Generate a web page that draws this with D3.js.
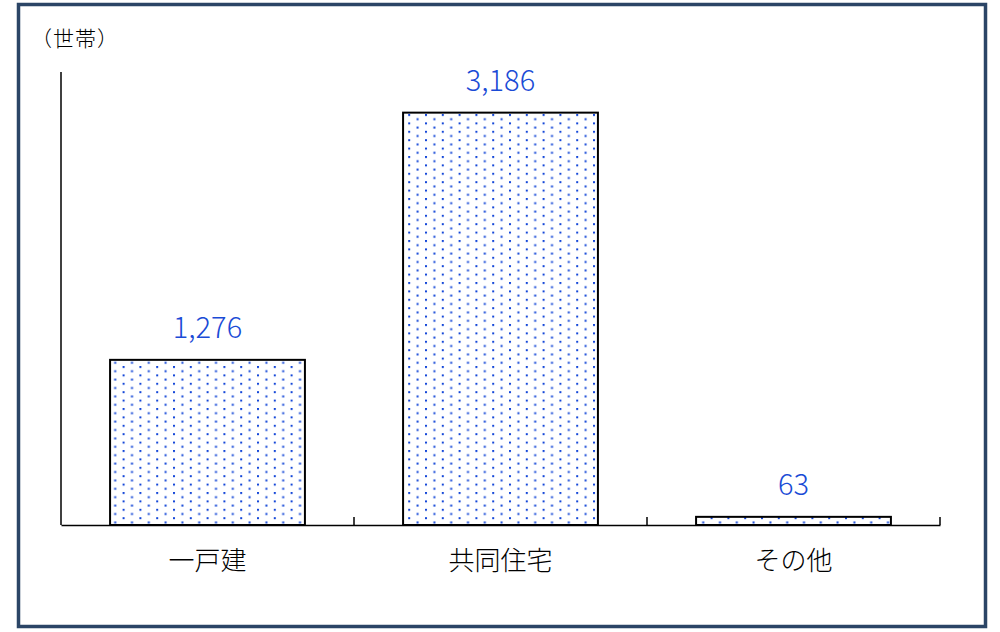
<!DOCTYPE html>
<html>
<head>
<meta charset="utf-8">
<script src="https://cdn.jsdelivr.net/npm/d3@7"></script>
<style>
  body { margin: 0; background: #ffffff; }
  svg { display: block; }
</style>
</head>
<body>
<div id="chart"></div>
<script>
// データ
const categories = ["一戸建", "共同住宅", "その他"];
const values = [1276, 3186, 63];
const yDomain = [0, 3500];
const unitLabel = "（世帯）";

const W = 1000, H = 632;
const svg = d3.select("#chart").append("svg")
    .attr("width", W)
    .attr("height", H);

// ドット模様
const defs = svg.append("defs");
const pat = defs.append("pattern")
    .attr("id", "dots")
    .attr("patternUnits", "userSpaceOnUse")
    .attr("width", 16.8)
    .attr("height", 8.4)
    .attr("x", 112)
    .attr("y", 0);
pat.append("rect").attr("width", 16.8).attr("height", 8.4).attr("fill", "#ffffff");
pat.append("rect").attr("x", 0).attr("y", 0).attr("width", 2).attr("height", 2).attr("fill", "#1447d8");
pat.append("rect").attr("x", 8.4).attr("y", 4.2).attr("width", 2).attr("height", 2).attr("fill", "#1447d8");

// 外枠
svg.append("rect")
    .attr("x", 18.5)
    .attr("y", 4.5)
    .attr("width", 967)
    .attr("height", 622)
    .attr("fill", "none")
    .attr("stroke", "#2b4566")
    .attr("stroke-width", 3.5);

const margin = { left: 61, right: 60, top: 72, bottom: 107 };
const plotW = W - margin.left - margin.right;
const plotH = H - margin.top - margin.bottom;

const g = svg.append("g")
    .attr("transform", `translate(${margin.left},${margin.top})`);

const x = d3.scaleBand()
    .domain(categories)
    .range([0, plotW])
    .paddingInner(0)
    .paddingOuter(0);

const y = d3.scaleLinear()
    .domain(yDomain)
    .range([plotH, 0]);

const barW = x.bandwidth() * 0.665;

// 棒
g.selectAll(".bar")
    .data(values)
    .enter()
    .append("rect")
    .attr("class", "bar")
    .attr("x", (d, i) => x(categories[i]) + (x.bandwidth() - barW) / 2)
    .attr("y", d => y(d))
    .attr("width", barW)
    .attr("height", d => plotH - y(d))
    .attr("fill", "url(#dots)")
    .attr("stroke", "#000000")
    .attr("stroke-width", 2);

// Y軸（線のみ）
g.append("line")
    .attr("x1", 0).attr("x2", 0)
    .attr("y1", 0).attr("y2", plotH)
    .attr("stroke", "#000")
    .attr("stroke-width", 1.5);

// X軸
const xAxis = g.append("g")
    .attr("transform", `translate(0,${plotH})`)
    .call(d3.axisBottom(x).tickSize(0).tickFormat(""));
xAxis.select(".domain").attr("stroke", "#000").attr("stroke-width", 1.5);

// 区切り目盛（上向き）
g.selectAll(".sep")
    .data(categories)
    .enter()
    .append("line")
    .attr("x1", d => x(d) + x.bandwidth())
    .attr("x2", d => x(d) + x.bandwidth())
    .attr("y1", plotH - 8)
    .attr("y2", plotH)
    .attr("stroke", "#000")
    .attr("stroke-width", 1.5);

// カテゴリ名
g.selectAll(".cat")
    .data(categories)
    .enter()
    .append("text")
    .attr("x", d => x(d) + x.bandwidth() / 2)
    .attr("y", plotH + 45)
    .attr("text-anchor", "middle")
    .style("font-family", "'Noto Sans CJK JP', sans-serif")
    .style("font-weight", "300")
    .style("font-size", "26px")
    .style("fill", "#000")
    .text(d => d);

// 値ラベル
g.selectAll(".val")
    .data(values)
    .enter()
    .append("text")
    .attr("x", (d, i) => x(categories[i]) + x.bandwidth() / 2)
    .attr("y", d => y(d) - 22)
    .attr("text-anchor", "middle")
    .style("font-family", "'Noto Sans CJK JP', sans-serif")
    .style("font-weight", "300")
    .style("font-size", "29px")
    .style("fill", "#1a4bd6")
    .text(d => d3.format(",")(d));

// 単位
svg.append("text")
    .attr("x", 31)
    .attr("y", 46)
    .style("font-family", "'Noto Sans CJK JP', sans-serif")
    .style("font-weight", "300")
    .style("font-size", "21px")
    .style("letter-spacing", "1px")
    .style("fill", "#000")
    .text(unitLabel);
</script>
</body>
</html>
